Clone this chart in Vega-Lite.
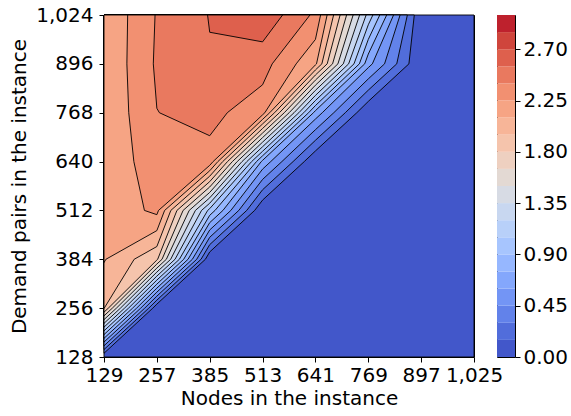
{
  "$schema": "https://vega.github.io/schema/vega-lite/v6.json",
  "padding": {"left": 9, "top": 4, "right": 0, "bottom": 0},
  "background": "white",
  "bounds": "flush",
  "spacing": 23,
  "config": {
    "font": "DejaVu Sans",
    "view": {"stroke": "black", "strokeWidth": 1},
    "axis": {"domain": false, "grid": false, "tickColor": "black", "tickSize": 5, "tickWidth": 1, "labelColor": "black", "titleColor": "black", "labelFontSize": 20, "titleFontSize": 20, "titleFontWeight": "normal", "labelFont": "DejaVu Sans", "titleFont": "DejaVu Sans", "labelFlush": false, "labelOverlap": false}
  },
  "datasets": {
    "contours": [
      {"lv":0,"o":0,"x":129,"y":128},{"lv":0,"o":1,"x":1025,"y":128},{"lv":0,"o":2,"x":1025,"y":1024},{"lv":0,"o":3,"x":129,"y":1024},
      {"lv":1,"o":0,"x":129,"y":137.8},{"lv":1,"o":1,"x":247.2,"y":256},{"lv":1,"o":2,"x":257,"y":266.5},{"lv":1,"o":3,"x":374.5,"y":384},{"lv":1,"o":4,"x":385,"y":403.2},{"lv":1,"o":5,"x":493.8,"y":512},{"lv":1,"o":6,"x":513,"y":539},{"lv":1,"o":7,"x":614,"y":640},{"lv":1,"o":8,"x":641,"y":667.8},{"lv":1,"o":9,"x":741.2,"y":768},{"lv":1,"o":10,"x":769,"y":797.6},{"lv":1,"o":11,"x":867.4,"y":896},{"lv":1,"o":12,"x":880.4,"y":1024},{"lv":1,"o":13,"x":129,"y":1024},
      {"lv":2,"o":0,"x":129,"y":147.6},{"lv":2,"o":1,"x":237.4,"y":256},{"lv":2,"o":2,"x":257,"y":277},{"lv":2,"o":3,"x":364,"y":384},{"lv":2,"o":4,"x":385,"y":422.4},{"lv":2,"o":5,"x":474.6,"y":512},{"lv":2,"o":6,"x":513,"y":566.1},{"lv":2,"o":7,"x":586.9,"y":640},{"lv":2,"o":8,"x":641,"y":695.7},{"lv":2,"o":9,"x":713.3,"y":768},{"lv":2,"o":10,"x":769,"y":827.1},{"lv":2,"o":11,"x":837.9,"y":896},{"lv":2,"o":12,"x":863.6,"y":1024},{"lv":2,"o":13,"x":129,"y":1024},
      {"lv":3,"o":0,"x":129,"y":157.4},{"lv":3,"o":1,"x":227.6,"y":256},{"lv":3,"o":2,"x":257,"y":287.5},{"lv":3,"o":3,"x":353.5,"y":384},{"lv":3,"o":4,"x":385,"y":441.6},{"lv":3,"o":5,"x":455.4,"y":512},{"lv":3,"o":6,"x":513,"y":593.2},{"lv":3,"o":7,"x":559.8,"y":640},{"lv":3,"o":8,"x":641,"y":723.5},{"lv":3,"o":9,"x":685.5,"y":768},{"lv":3,"o":10,"x":769,"y":856.6},{"lv":3,"o":11,"x":808.4,"y":896},{"lv":3,"o":12,"x":846,"y":1024},{"lv":3,"o":13,"x":129,"y":1024},
      {"lv":4,"o":0,"x":129,"y":167.2},{"lv":4,"o":1,"x":217.8,"y":256},{"lv":4,"o":2,"x":257,"y":298},{"lv":4,"o":3,"x":343,"y":384},{"lv":4,"o":4,"x":385,"y":460.8},{"lv":4,"o":5,"x":436.2,"y":512},{"lv":4,"o":6,"x":513,"y":620.2},{"lv":4,"o":7,"x":532.8,"y":640},{"lv":4,"o":8,"x":641,"y":751.4},{"lv":4,"o":9,"x":657.6,"y":768},{"lv":4,"o":10,"x":769,"y":886.1},{"lv":4,"o":11,"x":778.9,"y":896},{"lv":4,"o":12,"x":830.2,"y":1024},{"lv":4,"o":13,"x":129,"y":1024},
      {"lv":5,"o":0,"x":129,"y":177},{"lv":5,"o":1,"x":208,"y":256},{"lv":5,"o":2,"x":257,"y":308.5},{"lv":5,"o":3,"x":332.5,"y":384},{"lv":5,"o":4,"x":385,"y":480},{"lv":5,"o":5,"x":417,"y":512},{"lv":5,"o":6,"x":509.9,"y":640},{"lv":5,"o":7,"x":513,"y":643.2},{"lv":5,"o":8,"x":636.3,"y":768},{"lv":5,"o":9,"x":641,"y":773.4},{"lv":5,"o":10,"x":760.3,"y":896},{"lv":5,"o":11,"x":769,"y":921.6},{"lv":5,"o":12,"x":813.5,"y":1024},{"lv":5,"o":13,"x":129,"y":1024},
      {"lv":6,"o":0,"x":129,"y":186.8},{"lv":6,"o":1,"x":198.2,"y":256},{"lv":6,"o":2,"x":257,"y":319},{"lv":6,"o":3,"x":322,"y":384},{"lv":6,"o":4,"x":385,"y":499.2},{"lv":6,"o":5,"x":397.8,"y":512},{"lv":6,"o":6,"x":498.3,"y":640},{"lv":6,"o":7,"x":513,"y":655.1},{"lv":6,"o":8,"x":624.5,"y":768},{"lv":6,"o":9,"x":641,"y":786.7},{"lv":6,"o":10,"x":747.4,"y":896},{"lv":6,"o":11,"x":769,"y":960},{"lv":6,"o":12,"x":796.8,"y":1024},{"lv":6,"o":13,"x":129,"y":1024},
      {"lv":7,"o":0,"x":129,"y":196.6},{"lv":7,"o":1,"x":188.4,"y":256},{"lv":7,"o":2,"x":257,"y":329.5},{"lv":7,"o":3,"x":311.5,"y":384},{"lv":7,"o":4,"x":380,"y":512},{"lv":7,"o":5,"x":385,"y":516.7},{"lv":7,"o":6,"x":486.5,"y":640},{"lv":7,"o":7,"x":513,"y":667},{"lv":7,"o":8,"x":612.7,"y":768},{"lv":7,"o":9,"x":641,"y":800},{"lv":7,"o":10,"x":734.4,"y":896},{"lv":7,"o":11,"x":769,"y":998.4},{"lv":7,"o":12,"x":780.1,"y":1024},{"lv":7,"o":13,"x":129,"y":1024},
      {"lv":8,"o":0,"x":129,"y":206.3},{"lv":8,"o":1,"x":178.7,"y":256},{"lv":8,"o":2,"x":257,"y":340},{"lv":8,"o":3,"x":301,"y":384},{"lv":8,"o":4,"x":365.2,"y":512},{"lv":8,"o":5,"x":385,"y":530.9},{"lv":8,"o":6,"x":474.9,"y":640},{"lv":8,"o":7,"x":513,"y":678.9},{"lv":8,"o":8,"x":600.9,"y":768},{"lv":8,"o":9,"x":641,"y":813.3},{"lv":8,"o":10,"x":721.4,"y":896},{"lv":8,"o":11,"x":763.8,"y":1024},{"lv":8,"o":12,"x":129,"y":1024},
      {"lv":9,"o":0,"x":129,"y":216.2},{"lv":9,"o":1,"x":168.8,"y":256},{"lv":9,"o":2,"x":257,"y":350.5},{"lv":9,"o":3,"x":290.5,"y":384},{"lv":9,"o":4,"x":350.3,"y":512},{"lv":9,"o":5,"x":385,"y":545},{"lv":9,"o":6,"x":463.2,"y":640},{"lv":9,"o":7,"x":513,"y":690.9},{"lv":9,"o":8,"x":589.2,"y":768},{"lv":9,"o":9,"x":641,"y":826.6},{"lv":9,"o":10,"x":708.5,"y":896},{"lv":9,"o":11,"x":748,"y":1024},{"lv":9,"o":12,"x":129,"y":1024},
      {"lv":10,"o":0,"x":129,"y":225.9},{"lv":10,"o":1,"x":159.1,"y":256},{"lv":10,"o":2,"x":257,"y":361},{"lv":10,"o":3,"x":280,"y":384},{"lv":10,"o":4,"x":335.3,"y":512},{"lv":10,"o":5,"x":385,"y":559.2},{"lv":10,"o":6,"x":451.6,"y":640},{"lv":10,"o":7,"x":513,"y":702.8},{"lv":10,"o":8,"x":577.4,"y":768},{"lv":10,"o":9,"x":641,"y":840},{"lv":10,"o":10,"x":695.5,"y":896},{"lv":10,"o":11,"x":732.3,"y":1024},{"lv":10,"o":12,"x":129,"y":1024},
      {"lv":11,"o":0,"x":129,"y":235.8},{"lv":11,"o":1,"x":149.2,"y":256},{"lv":11,"o":2,"x":257,"y":371.5},{"lv":11,"o":3,"x":269.5,"y":384},{"lv":11,"o":4,"x":320.5,"y":512},{"lv":11,"o":5,"x":385,"y":573.4},{"lv":11,"o":6,"x":439.9,"y":640},{"lv":11,"o":7,"x":513,"y":714.8},{"lv":11,"o":8,"x":565.6,"y":768},{"lv":11,"o":9,"x":641,"y":853.4},{"lv":11,"o":10,"x":682.5,"y":896},{"lv":11,"o":11,"x":716.5,"y":1024},{"lv":11,"o":12,"x":129,"y":1024},
      {"lv":12,"o":0,"x":129,"y":245.5},{"lv":12,"o":1,"x":139.5,"y":256},{"lv":12,"o":2,"x":257,"y":382},{"lv":12,"o":3,"x":259,"y":384},{"lv":12,"o":4,"x":305.6,"y":512},{"lv":12,"o":5,"x":385,"y":587.5},{"lv":12,"o":6,"x":428.1,"y":640},{"lv":12,"o":7,"x":513,"y":726.7},{"lv":12,"o":8,"x":553.8,"y":768},{"lv":12,"o":9,"x":641,"y":866.7},{"lv":12,"o":10,"x":669.5,"y":896},{"lv":12,"o":11,"x":700.8,"y":1024},{"lv":12,"o":12,"x":129,"y":1024},
      {"lv":13,"o":0,"x":129,"y":255.4},{"lv":13,"o":1,"x":129.6,"y":256},{"lv":13,"o":2,"x":202.1,"y":384},{"lv":13,"o":3,"x":257,"y":417.4},{"lv":13,"o":4,"x":290.8,"y":512},{"lv":13,"o":5,"x":385,"y":601.7},{"lv":13,"o":6,"x":416.5,"y":640},{"lv":13,"o":7,"x":513,"y":738.6},{"lv":13,"o":8,"x":542.1,"y":768},{"lv":13,"o":9,"x":641,"y":880},{"lv":13,"o":10,"x":656.6,"y":896},{"lv":13,"o":11,"x":685,"y":1024},{"lv":13,"o":12,"x":129,"y":1024},
      {"lv":14,"o":0,"x":129,"y":375.4},{"lv":14,"o":1,"x":133.6,"y":384},{"lv":14,"o":2,"x":257,"y":459.1},{"lv":14,"o":3,"x":275.8,"y":512},{"lv":14,"o":4,"x":385,"y":615.9},{"lv":14,"o":5,"x":404.8,"y":640},{"lv":14,"o":6,"x":513,"y":750.5},{"lv":14,"o":7,"x":530.3,"y":768},{"lv":14,"o":8,"x":641,"y":893.3},{"lv":14,"o":9,"x":643.6,"y":896},{"lv":14,"o":10,"x":669.3,"y":1024},{"lv":14,"o":11,"x":129,"y":1024},
      {"lv":15,"o":0,"x":186.3,"y":1024},{"lv":15,"o":1,"x":184.4,"y":896},{"lv":15,"o":2,"x":188.9,"y":768},{"lv":15,"o":3,"x":201.3,"y":640},{"lv":15,"o":4,"x":226.9,"y":512},{"lv":15,"o":5,"x":257,"y":500.9},{"lv":15,"o":6,"x":261,"y":512},{"lv":15,"o":7,"x":385,"y":630.1},{"lv":15,"o":8,"x":393.2,"y":640},{"lv":15,"o":9,"x":513,"y":762.5},{"lv":15,"o":10,"x":518.5,"y":768},{"lv":15,"o":11,"x":594.4,"y":896},{"lv":15,"o":12,"x":641,"y":960},{"lv":15,"o":13,"x":653.5,"y":1024},
      {"lv":16,"o":0,"x":252.6,"y":1024},{"lv":16,"o":1,"x":248.4,"y":896},{"lv":16,"o":2,"x":257,"y":779.6},{"lv":16,"o":3,"x":263.1,"y":768},{"lv":16,"o":4,"x":385,"y":707.7},{"lv":16,"o":5,"x":427.6,"y":768},{"lv":16,"o":6,"x":513,"y":841.1},{"lv":16,"o":7,"x":536.3,"y":896},{"lv":16,"o":8,"x":627.8,"y":1024},
      {"lv":17,"o":0,"x":379.8,"y":1024},{"lv":17,"o":1,"x":385,"y":978.8},{"lv":17,"o":2,"x":513,"y":953.6},{"lv":17,"o":3,"x":561.5,"y":1024}
    ],
    "bar": [
      {"b":0,"lo":0,"hi":0.15},{"b":1,"lo":0.15,"hi":0.3},{"b":2,"lo":0.3,"hi":0.45},{"b":3,"lo":0.45,"hi":0.6},{"b":4,"lo":0.6,"hi":0.75},
      {"b":5,"lo":0.75,"hi":0.9},{"b":6,"lo":0.9,"hi":1.05},{"b":7,"lo":1.05,"hi":1.2},{"b":8,"lo":1.2,"hi":1.35},{"b":9,"lo":1.35,"hi":1.5},
      {"b":10,"lo":1.5,"hi":1.65},{"b":11,"lo":1.65,"hi":1.8},{"b":12,"lo":1.8,"hi":1.95},{"b":13,"lo":1.95,"hi":2.1},{"b":14,"lo":2.1,"hi":2.25},
      {"b":15,"lo":2.25,"hi":2.4},{"b":16,"lo":2.4,"hi":2.55},{"b":17,"lo":2.55,"hi":2.7},{"b":18,"lo":2.7,"hi":2.85},{"b":19,"lo":2.85,"hi":3.0}
    ]
  },
  "hconcat": [
    {
      "width": 370,
      "height": 342,
      "data": {"name": "contours"},
      "mark": {"type": "line", "interpolate": "linear-closed", "stroke": "black", "strokeWidth": 0.9, "fillOpacity": 1},
      "encoding": {
        "x": {"field": "x", "type": "quantitative", "scale": {"domain": [129, 1025], "nice": false, "zero": false},
              "axis": {"values": [129, 257, 385, 513, 641, 769, 897, 1025], "format": ",d", "title": "Nodes in the instance", "labelPadding": 3, "titlePadding": 3}},
        "y": {"field": "y", "type": "quantitative", "scale": {"domain": [128, 1024], "nice": false, "zero": false},
              "axis": {"values": [128, 256, 384, 512, 640, 768, 896, 1024], "format": ",d", "title": "Demand pairs in the instance", "labelPadding": 6, "titlePadding": 6}},
        "order": {"field": "o", "type": "quantitative"},
        "detail": {"field": "lv", "type": "ordinal"},
        "fill": {"field": "lv", "type": "ordinal", "legend": null,
                 "scale": {"domain": [0,1,2,3,4,5,6,7,8,9,10,11,12,13,14,15,16,17,18,19],
                           "range": ["#4257ca","#516ddb","#6282ea","#7395f5","#84a7fc","#96b7ff","#a7c5fe","#b8d0f9","#c8d7f0","#d7dbe4","#e3d9d3","#eed0c0","#f5c4ac","#f7b598","#f6a484","#f29071","#e9795f","#de604d","#cf453c","#be212d"]}}
      }
    },
    {
      "width": 18,
      "height": 342,
      "data": {"name": "bar"},
      "mark": {"type": "rect"},
      "encoding": {
        "y": {"field": "lo", "type": "quantitative", "scale": {"domain": [0, 3], "nice": false, "zero": false},
              "axis": {"orient": "right", "values": [0, 0.45, 0.9, 1.35, 1.8, 2.25, 2.7], "format": ".2f", "title": null, "labelPadding": 3}},
        "y2": {"field": "hi"},
        "fill": {"field": "b", "type": "ordinal", "legend": null,
                 "scale": {"domain": [0,1,2,3,4,5,6,7,8,9,10,11,12,13,14,15,16,17,18,19],
                           "range": ["#4257ca","#516ddb","#6282ea","#7395f5","#84a7fc","#96b7ff","#a7c5fe","#b8d0f9","#c8d7f0","#d7dbe4","#e3d9d3","#eed0c0","#f5c4ac","#f7b598","#f6a484","#f29071","#e9795f","#de604d","#cf453c","#be212d"]}}
      }
    }
  ]
}
